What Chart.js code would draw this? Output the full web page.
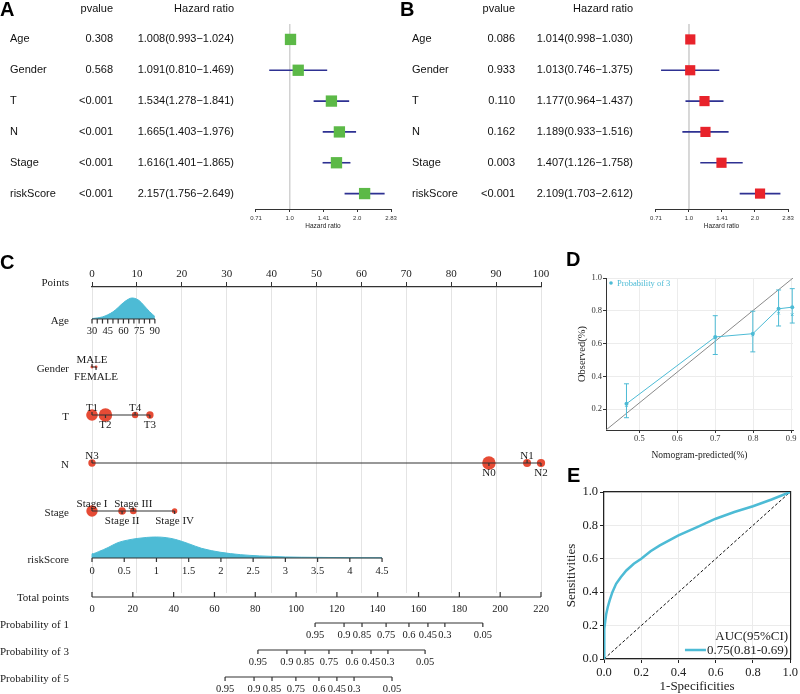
<!DOCTYPE html>
<html>
<head>
<meta charset="utf-8">
<script src="https://cdn.jsdelivr.net/npm/chart.js@4.4.1/dist/chart.umd.min.js"></script>
<style>
  body { margin: 0; background: #fff; width: 800px; height: 694px; position: relative; overflow: hidden; }
  canvas { position: absolute; }
  .tag { position: absolute; z-index: 2; font: bold 20px "Liberation Sans", Arial, sans-serif; line-height: 20px; color: #000; }
</style>
</head>
<body>
<div class="tag" style="left:0;top:-1px">A</div>
<div class="tag" style="left:400px;top:-1px">B</div>
<div class="tag" style="left:0;top:252px">C</div>
<div class="tag" style="left:566px;top:249px">D</div>
<div class="tag" style="left:567px;top:465px">E</div>

<canvas id="forestA" width="400" height="232" style="left:0;top:0;width:400px;height:232px"></canvas>
<canvas id="forestB" width="400" height="232" style="left:400px;top:0;width:400px;height:232px"></canvas>
<canvas id="nomo" width="560" height="464" style="left:0;top:230px;width:560px;height:464px"></canvas>
<canvas id="calib" width="240" height="215" style="left:560px;top:250px;width:240px;height:215px"></canvas>
<canvas id="roc" width="240" height="224" style="left:560px;top:470px;width:240px;height:224px"></canvas>

<script>
const SERIF = '"Liberation Serif", "Times New Roman", serif';
const SANS = '"Liberation Sans", Arial, sans-serif';
const CYAN = '#4DBBD5';
const RED = '#E64B35';

// ---- A / B : cox regression ----
const coxVars = ['Age', 'Gender', 'T', 'N', 'Stage', 'riskScore'];
const uniP = ['0.308', '0.568', '<0.001', '<0.001', '<0.001', '<0.001'];
const uniHR = [1.008, 1.091, 1.534, 1.665, 1.616, 2.157];
const uniLow = [0.993, 0.810, 1.278, 1.403, 1.401, 1.756];
const uniHigh = [1.024, 1.469, 1.841, 1.976, 1.865, 2.649];
const multiP = ['0.086', '0.933', '0.110', '0.162', '0.003', '<0.001'];
const multiHR = [1.014, 1.013, 1.177, 1.189, 1.407, 2.109];
const multiLow = [0.998, 0.746, 0.964, 0.933, 1.126, 1.703];
const multiHigh = [1.030, 1.375, 1.437, 1.516, 1.758, 2.612];
const hrTicks = [0.7071, 1.0, 1.4142, 2.0, 2.8284];
const hrTickLabels = ['0.71', '1.0', '1.41', '2.0', '2.83'];

// ---- C : nomogram ----
const pointsTicks = [0, 10, 20, 30, 40, 50, 60, 70, 80, 90, 100];
const ageMinorTicks = [30, 35, 40, 45, 50, 55, 60, 65, 70, 75, 80, 85, 90];
const ageTickVals = [30, 45, 60, 75, 90];
const agePtsAt90 = 14.0;
const ageDensAge = [30, 35, 40, 45, 50, 55, 60, 65, 68, 71, 75, 80, 85, 90];
const ageDens = [0.02, 0.05, 0.1, 0.2, 0.34, 0.55, 0.78, 0.95, 1.0, 0.98, 0.88, 0.62, 0.35, 0.12];
const genderLevels = ['MALE', 'FEMALE'];
const genderPts = [0, 0.9];
const genderSize = [0.013, 0.013];
const tLevels = ['T1', 'T2', 'T4', 'T3'];
const tPts = [0, 3.0, 9.6, 12.9];
const tSize = [0.2, 0.27, 0.06, 0.08];
const nLevels = ['N3', 'N0', 'N1', 'N2'];
const nPts = [0, 88.4, 96.9, 100];
const nSize = [0.08, 0.27, 0.095, 0.1];
const stageLevels = ['Stage I', 'Stage II', 'Stage III', 'Stage IV'];
const stagePts = [0, 6.7, 9.2, 18.4];
const stageSize = [0.19, 0.085, 0.064, 0.043];
const riskTickVals = [0, 0.5, 1, 1.5, 2, 2.5, 3, 3.5, 4, 4.5];
const riskPtsAt45 = 64.6;
const riskDensX = [0, 0, 0.1, 0.25, 0.4, 0.55, 0.7, 0.85, 1.0, 1.15, 1.3, 1.5, 1.7, 2.0, 2.3, 2.6, 3.0, 3.5, 4.0, 4.5];
const riskDens = [0, 0.2, 0.3, 0.5, 0.73, 0.85, 0.93, 0.98, 1.0, 0.97, 0.88, 0.68, 0.46, 0.27, 0.16, 0.1, 0.05, 0.03, 0.015, 0.01];
const totalTicks = [0, 20, 40, 60, 80, 100, 120, 140, 160, 180, 200, 220];
const probLabels = ['0.95', '0.9', '0.85', '0.75', '0.6', '0.45', '0.3', '0.05'];
const prob1At = [109.3, 123.5, 132.3, 144.1, 155.3, 164.6, 172.9, 191.5];
const prob3At = [81.3, 95.5, 104.4, 116.1, 127.4, 136.7, 145.0, 163.2];
const prob5At = [65.2, 79.4, 88.2, 99.9, 111.2, 120.0, 128.4, 147.0];

// ---- D : calibration ----
const calPred = [0.466, 0.700, 0.799, 0.867, 0.903];
const calObs = [0.232, 0.640, 0.660, 0.812, 0.822];
const calLow = [0.147, 0.533, 0.549, 0.707, 0.725];
const calHigh = [0.354, 0.770, 0.797, 0.927, 0.935];
const calCorr = [0.222, 0.634, 0.653, 0.785, 0.776];
const calXRange = [0.412, 0.905];
const calYRange = [0.072, 1.0];
const calXTicks = [0.5, 0.6, 0.7, 0.8, 0.9];
const calYTicks = [0.2, 0.4, 0.6, 0.8, 1.0];

// ---- E : ROC ----
const rocFpr = [0, 0, 0.003, 0.007, 0.012, 0.02, 0.03, 0.045, 0.065, 0.09, 0.12, 0.16, 0.2, 0.25, 0.3, 0.35, 0.4, 0.5, 0.6, 0.7, 0.8, 0.9, 1.0];
const rocTpr = [0, 0.12, 0.18, 0.23, 0.27, 0.31, 0.35, 0.40, 0.45, 0.49, 0.53, 0.57, 0.60, 0.645, 0.68, 0.71, 0.74, 0.79, 0.84, 0.88, 0.915, 0.955, 1.0];
const rocTicks = [0, 0.2, 0.4, 0.6, 0.8, 1.0];
const aucText = '0.75(0.81-0.69)';

Chart.defaults.animation = false;

function forestChart(id, hr, lo, hi, pv, sqColor, sqR, cols, padRight) {
  const datasets = [{
    data: [{x: 1, y: -0.5}, {x: 1, y: 5.5}], showLine: true,
    borderColor: '#d2d2d2', borderWidth: 1, pointRadius: 0, order: 3
  }];
  hr.forEach((v, i) => datasets.push({
    data: [{x: lo[i], y: i}, {x: hi[i], y: i}], showLine: true,
    borderColor: '#2E3192', borderWidth: 1.6, pointRadius: 0, order: 2
  }));
  datasets.push({
    data: hr.map((v, i) => ({x: v, y: i})), pointStyle: 'rect', pointRadius: sqR,
    backgroundColor: sqColor, borderWidth: 0, order: 1
  });

  //table of names, p values and HR(CI) lined up with the rows
  const table = {
    id: 'table',
    afterDraw(chart) {
      const ctx = chart.ctx, ys = chart.scales.y;
      ctx.save();
      ctx.font = '11px ' + SANS;
      ctx.fillStyle = '#111';
      ctx.textBaseline = 'middle';
      ctx.textAlign = 'right';
      ctx.fillText('pvalue', cols.p, ys.getPixelForValue(-1));
      ctx.fillText('Hazard ratio', cols.hr, ys.getPixelForValue(-1));
      coxVars.forEach((name, i) => {
        const y = ys.getPixelForValue(i);
        ctx.textAlign = 'left';
        ctx.fillText(name, cols.name, y);
        ctx.textAlign = 'right';
        ctx.fillText(pv[i], cols.p, y);
        ctx.fillText(hr[i].toFixed(3) + '(' + lo[i].toFixed(3) + '\u2212' + hi[i].toFixed(3) + ')', cols.hr, y);
      });
      ctx.restore();
    }
  };

  return new Chart(document.getElementById(id), {
    type: 'scatter',
    data: {datasets},
    options: {
      responsive: false, events: [],
      layout: {padding: {left: 255, right: padRight, top: 24, bottom: 0}},
      plugins: {legend: {display: false}, tooltip: {enabled: false}},
      scales: {
        x: {
          type: 'logarithmic', min: hrTicks[0], max: hrTicks[hrTicks.length - 1],
          afterBuildTicks: s => { s.ticks = hrTicks.map(v => ({value: v})); },
          afterFit: s => { s.height = 23; },
          ticks: {callback: (v, i) => hrTickLabels[i], font: {family: SANS, size: 6}, color: '#333', padding: 3, maxRotation: 0, autoSkip: false},
          grid: {drawOnChartArea: false, drawTicks: true, tickLength: 3, tickColor: '#333'},
          border: {color: '#333', width: 1},
          title: {display: true, text: 'Hazard ratio', font: {family: SANS, size: 6.5}, color: '#222', padding: {top: 0, bottom: 2}}
        },
        y: {type: 'linear', display: false, reverse: true, min: -0.5, max: 5.5}
      }
    },
    plugins: [table]
  });
}

forestChart('forestA', uniHR, uniLow, uniHigh, uniP, '#5CB947', 8, {name: 10, p: 113, hr: 234}, 9);
forestChart('forestB', multiHR, multiLow, multiHigh, multiP, '#E8232B', 7.2, {name: 12, p: 115, hr: 233}, 12);

// ---- nomogram ----
const nomoRow = {points: 0, age: 32, gender: 80, T: 128, N: 176, stage: 224, risk: 271, total: 310, p1: 336, p3: 363, p5: 390};
const densH = 21;
const catVars = [
  {row: nomoRow.gender, levels: genderLevels, pts: genderPts, size: genderSize},
  {row: nomoRow.T, levels: tLevels, pts: tPts, size: tSize},
  {row: nomoRow.N, levels: nLevels, pts: nPts, size: nSize},
  {row: nomoRow.stage, levels: stageLevels, pts: stagePts, size: stageSize}
];
const rowLabels = [
  ['Points', -4], ['Age', 34], ['Gender', 82], ['T', 130], ['N', 178], ['Stage', 226],
  ['riskScore', 273], ['Total points', 311], ['Probability of 1', 338], ['Probability of 3', 365], ['Probability of 5', 392]
];
const subAxes = [
  {scale: 'age', row: nomoRow.age, ticks: ageMinorTicks, labels: ageMinorTicks.map(v => ageTickVals.includes(v) ? String(v) : null), dir: 1, len: 4.5, lab: 12},
  {scale: 'risk', row: nomoRow.risk, ticks: riskTickVals, labels: riskTickVals.map(String), dir: 1, len: 4, lab: 13},
  {scale: 'total', row: nomoRow.total, ticks: totalTicks, labels: totalTicks.map(String), dir: -1, len: 5, lab: 12},
  {scale: 'total', row: nomoRow.p1, ticks: prob1At, labels: probLabels, dir: 1, len: 4, lab: 12},
  {scale: 'total', row: nomoRow.p3, ticks: prob3At, labels: probLabels, dir: 1, len: 4, lab: 12},
  {scale: 'total', row: nomoRow.p5, ticks: prob5At, labels: probLabels, dir: 1, len: 4, lab: 12}
];

const nomoDatasets = [
  {
    type: 'line', xAxisID: 'age', yAxisID: 'y',
    data: ageDensAge.map((a, i) => ({x: a, y: nomoRow.age - ageDens[i] * densH})),
    fill: {value: nomoRow.age}, backgroundColor: CYAN, borderColor: CYAN, borderWidth: 1,
    pointRadius: 0, cubicInterpolationMode: 'monotone', clip: false
  },
  {
    type: 'line', xAxisID: 'risk', yAxisID: 'y',
    data: riskDensX.map((r, i) => ({x: r, y: nomoRow.risk - riskDens[i] * densH})),
    fill: {value: nomoRow.risk}, backgroundColor: CYAN, borderColor: CYAN, borderWidth: 1,
    pointRadius: 0, cubicInterpolationMode: 'monotone', clip: false
  }
];
catVars.forEach(v => nomoDatasets.push({
  xAxisID: 'x', yAxisID: 'y',
  data: v.pts.map(p => ({x: p, y: v.row})),
  pointRadius: v.size.map(s => 13 * Math.sqrt(s)),
  backgroundColor: RED, borderWidth: 0, clip: false
}));

const nomoDraw = {
  id: 'nomoDraw',
  afterDatasetsDraw(chart) {
    const ctx = chart.ctx, ys = chart.scales.y, xs = chart.scales.x;
    ctx.save();
    ctx.fillStyle = '#1a1a1a';
    ctx.strokeStyle = '#333';
    ctx.lineWidth = 1.2;

    // row titles
    ctx.font = '11px ' + SERIF;
    ctx.textAlign = 'right';
    ctx.textBaseline = 'middle';
    rowLabels.forEach(([t, off]) => ctx.fillText(t, 69, ys.getPixelForValue(off)));

    // secondary axes
    ctx.font = '10.5px ' + SERIF;
    ctx.textAlign = 'center';
    subAxes.forEach(a => {
      const sx = chart.scales[a.scale], py = ys.getPixelForValue(a.row);
      ctx.beginPath();
      ctx.moveTo(sx.getPixelForValue(a.ticks[0]), py);
      ctx.lineTo(sx.getPixelForValue(a.ticks[a.ticks.length - 1]), py);
      a.ticks.forEach(v => {
        const px = sx.getPixelForValue(v);
        ctx.moveTo(px, py);
        ctx.lineTo(px, py + a.dir * a.len);
      });
      ctx.stroke();
      a.ticks.forEach((v, i) => {
        if (a.labels[i] != null) ctx.fillText(a.labels[i], sx.getPixelForValue(v), py + a.lab);
      });
    });

    // categorical variables
    ctx.font = '11px ' + SERIF;
    catVars.forEach(v => {
      const py = ys.getPixelForValue(v.row);
      const order = v.pts.map((p, i) => i).sort((a, b) => v.pts[a] - v.pts[b]);
      ctx.beginPath();
      ctx.moveTo(xs.getPixelForValue(v.pts[order[0]]), py);
      ctx.lineTo(xs.getPixelForValue(v.pts[order[order.length - 1]]), py);
      order.forEach((idx, k) => {
        const px = xs.getPixelForValue(v.pts[idx]);
        const up = k % 2 === 0;
        ctx.moveTo(px, py);
        ctx.lineTo(px, py + (up ? -3 : 3));
      });
      ctx.stroke();
      order.forEach((idx, k) => {
        const px = xs.getPixelForValue(v.pts[idx]);
        const up = k % 2 === 0;
        ctx.fillText(v.levels[idx], px, py + (up ? -7 : 10));
      });
    });
    ctx.restore();
  }
};

new Chart(document.getElementById('nomo'), {
  type: 'scatter',
  data: {datasets: nomoDatasets},
  options: {
    responsive: false, events: [],
    layout: {padding: {left: 92, right: 19, top: 0, bottom: 101}},
    plugins: {legend: {display: false}, tooltip: {enabled: false}},
    scales: {
      x: {
        type: 'linear', position: 'top', min: 0, max: 100,
        afterBuildTicks: s => { s.ticks = pointsTicks.map(v => ({value: v})); },
        afterFit: s => { s.height = 57; },
        ticks: {font: {family: SERIF, size: 11}, color: '#222', padding: 1, maxRotation: 0, autoSkip: false},
        grid: {color: '#e4e4e4', tickColor: '#333', tickLength: 5},
        border: {color: '#333', width: 1.3}
      },
      age: {type: 'linear', axis: 'x', position: 'bottom', display: false, min: ageTickVals[0],
            max: ageTickVals[0] + (ageTickVals[ageTickVals.length - 1] - ageTickVals[0]) * 100 / agePtsAt90},
      risk: {type: 'linear', axis: 'x', position: 'bottom', display: false, min: 0,
             max: riskTickVals[riskTickVals.length - 1] * 100 / riskPtsAt45},
      total: {type: 'linear', axis: 'x', position: 'bottom', display: false, min: 0, max: totalTicks[totalTicks.length - 1]},
      y: {type: 'linear', display: false, reverse: true, min: 0, max: 306}
    }
  },
  plugins: [nomoDraw]
});

// ---- calibration ----
const calDraw = {
  id: 'calDraw',
  afterDatasetsDraw(chart) {
    const ctx = chart.ctx, xs = chart.scales.x, ys = chart.scales.y, area = chart.chartArea;
    ctx.save();
    ctx.strokeStyle = CYAN;
    ctx.lineWidth = 1;
    ctx.beginPath();
    calPred.forEach((p, i) => {
      const x = xs.getPixelForValue(p), y1 = ys.getPixelForValue(calLow[i]), y2 = ys.getPixelForValue(calHigh[i]);
      ctx.moveTo(x, y1); ctx.lineTo(x, y2);
      ctx.moveTo(x - 2.5, y1); ctx.lineTo(x + 2.5, y1);
      ctx.moveTo(x - 2.5, y2); ctx.lineTo(x + 2.5, y2);
    });
    ctx.stroke();
    // legend
    ctx.fillStyle = CYAN;
    ctx.beginPath();
    ctx.arc(area.left + 5, area.top + 5, 1.8, 0, Math.PI * 2);
    ctx.fill();
    ctx.font = '8.5px ' + SERIF;
    ctx.textBaseline = 'middle';
    ctx.textAlign = 'left';
    ctx.fillText('Probability of 3', area.left + 11, area.top + 5.5);
    ctx.restore();
  }
};

new Chart(document.getElementById('calib'), {
  type: 'scatter',
  data: {datasets: [
    {data: [{x: calXRange[0], y: calYRange[0]}, {x: calXRange[1], y: calYRange[1]}], showLine: true,
     borderColor: '#8a8a8a', borderWidth: 1, pointRadius: 0, order: 3},
    {data: calPred.map((p, i) => ({x: p, y: calObs[i]})), showLine: true, borderColor: CYAN, borderWidth: 1,
     pointRadius: 2, backgroundColor: CYAN, pointBorderWidth: 0, order: 1, clip: false},
    {data: calPred.map((p, i) => ({x: p, y: calCorr[i]})), pointStyle: 'crossRot', pointRadius: 1.8,
     borderColor: CYAN, borderWidth: 1, order: 2, clip: false}
  ]},
  options: {
    responsive: false, events: [],
    layout: {padding: {left: 0, right: 7, top: 28, bottom: 0}},
    plugins: {legend: {display: false}, tooltip: {enabled: false}},
    scales: {
      x: {
        type: 'linear', min: calXRange[0], max: calXRange[1],
        afterBuildTicks: s => { s.ticks = calXTicks.map(v => ({value: v})); },
        afterFit: s => { s.height = 35; },
        ticks: {callback: v => v.toFixed(1), font: {family: SERIF, size: 8.5}, color: '#333', padding: 1, maxRotation: 0, autoSkip: false},
        grid: {color: '#ececec', tickColor: '#333', tickLength: 3},
        border: {color: '#333', width: 1},
        title: {display: true, text: 'Nomogram-predicted(%)', font: {family: SERIF, size: 9.5}, color: '#222', padding: {top: 0, bottom: 4}}
      },
      y: {
        type: 'linear', min: calYRange[0], max: calYRange[1],
        afterBuildTicks: s => { s.ticks = calYTicks.map(v => ({value: v})); },
        afterFit: s => { s.width = 46; },
        ticks: {callback: v => v.toFixed(1), font: {family: SERIF, size: 8.5}, color: '#333', padding: 1, autoSkip: false},
        grid: {color: '#ececec', tickColor: '#333', tickLength: 3},
        border: {color: '#333', width: 1},
        title: {display: true, text: 'Observed(%)', font: {family: SERIF, size: 10.5}, color: '#222', padding: {top: 16, bottom: 0}}
      }
    }
  },
  plugins: [calDraw]
});

// ---- ROC ----
const rocLegend = {
  id: 'rocLegend',
  afterDatasetsDraw(chart) {
    const ctx = chart.ctx, area = chart.chartArea;
    ctx.save();
    ctx.font = '13px ' + SERIF;
    ctx.fillStyle = '#222';
    ctx.textBaseline = 'middle';
    ctx.textAlign = 'right';
    const rx = area.right - 2;
    ctx.fillText('AUC(95%CI)', rx, area.bottom - 22);
    ctx.fillText(aucText, rx, area.bottom - 8);
    const tx = rx - ctx.measureText(aucText).width;
    ctx.strokeStyle = CYAN;
    ctx.lineWidth = 2.5;
    ctx.beginPath();
    ctx.moveTo(tx - 22, area.bottom - 9);
    ctx.lineTo(tx - 1, area.bottom - 9);
    ctx.stroke();
    ctx.restore();
  }
};

new Chart(document.getElementById('roc'), {
  type: 'scatter',
  data: {datasets: [
    {data: [{x: 0, y: 0}, {x: 1, y: 1}], showLine: true, borderColor: '#111', borderWidth: 1,
     borderDash: [3, 2], pointRadius: 0, order: 2},
    {data: rocFpr.map((f, i) => ({x: f, y: rocTpr[i]})), showLine: true, borderColor: CYAN, borderWidth: 2.5,
     pointRadius: 0, order: 1}
  ]},
  options: {
    responsive: false, events: [],
    layout: {padding: {left: 0, right: 8, top: 22, bottom: 0}},
    plugins: {legend: {display: false}, tooltip: {enabled: false}},
    scales: {
      x: {
        type: 'linear', min: 0, max: 1,
        afterBuildTicks: s => { s.ticks = rocTicks.map(v => ({value: v})); },
        afterFit: s => { s.height = 35; },
        ticks: {callback: v => v.toFixed(1), font: {family: SERIF, size: 12.5}, color: '#222', padding: 2, maxRotation: 0, autoSkip: false},
        grid: {color: '#ebebeb', tickColor: '#222', tickLength: 4},
        border: {color: '#222', width: 1.2},
        title: {display: true, text: '1-Specificities', font: {family: SERIF, size: 13}, color: '#222', padding: {top: 0, bottom: 0}}
      },
      y: {
        type: 'linear', min: 0, max: 1,
        afterBuildTicks: s => { s.ticks = rocTicks.map(v => ({value: v})); },
        afterFit: s => { s.width = 44; },
        ticks: {callback: v => v.toFixed(1), font: {family: SERIF, size: 12.5}, color: '#222', padding: 2, autoSkip: false},
        grid: {color: '#ebebeb', tickColor: '#222', tickLength: 4},
        border: {color: '#222', width: 1.2},
        title: {display: true, text: 'Sensitivities', font: {family: SERIF, size: 13}, color: '#222', padding: {top: 4, bottom: 0}}
      },
      x2: {
        type: 'linear', axis: 'x', position: 'top', min: 0, max: 1,
        afterFit: s => { s.height = 0; },
        ticks: {display: false}, grid: {display: false}, border: {color: '#222', width: 1.2}
      },
      y2: {
        type: 'linear', axis: 'y', position: 'right', min: 0, max: 1,
        afterFit: s => { s.width = 0; },
        ticks: {display: false}, grid: {display: false}, border: {color: '#222', width: 1.2}
      }
    }
  },
  plugins: [rocLegend]
});
</script>
</body>
</html>
